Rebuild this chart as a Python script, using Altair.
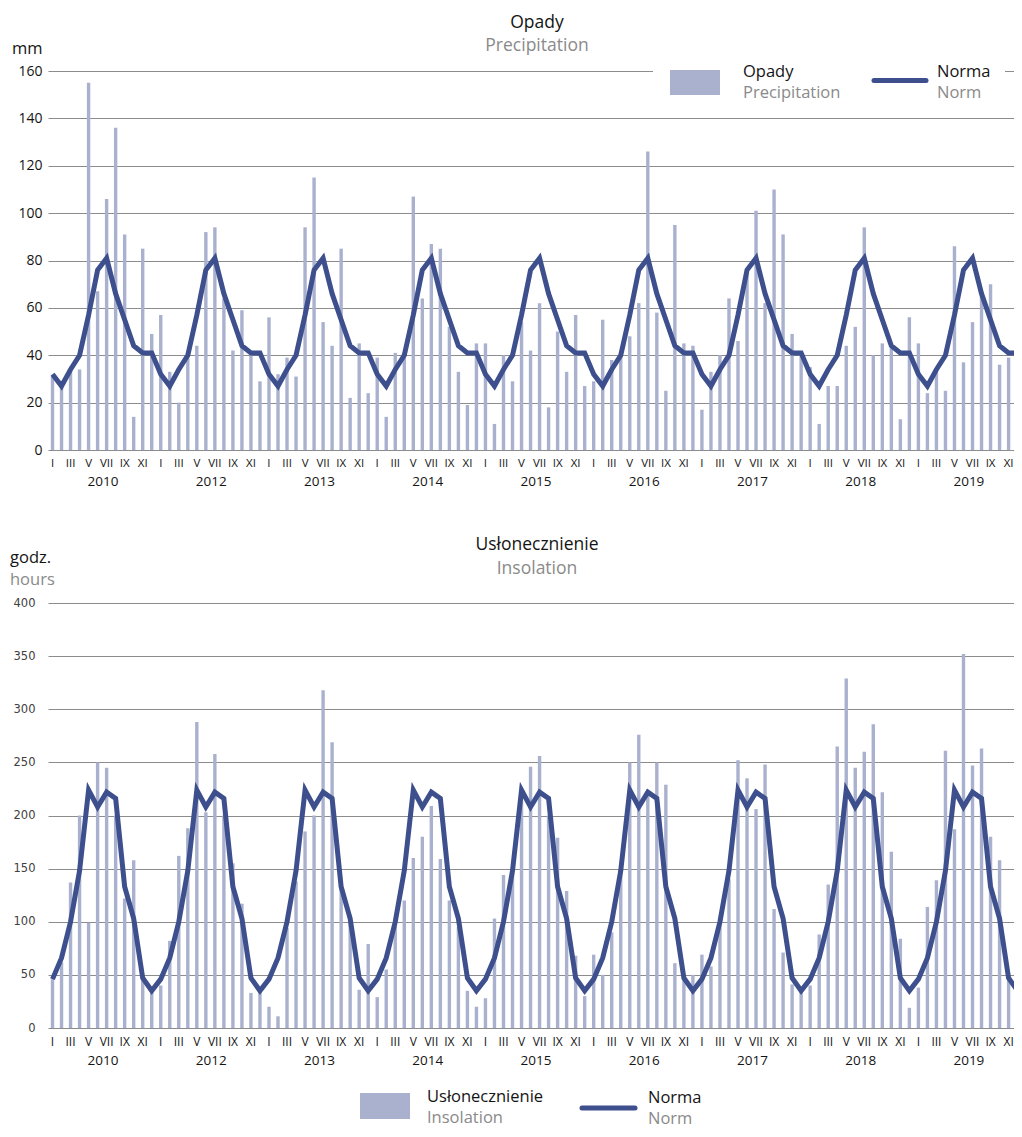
import altair as alt
import pandas as pd

# ---------------- data ----------------
year_labels = ["2010", "2012", "2013", "2014", "2015", "2016", "2017", "2018", "2019"]
roman = ["I", "II", "III", "IV", "V", "VI", "VII", "VIII", "IX", "X", "XI", "XII"]

precip_y1 = [31, 28, 33, 34, 155, 67, 106, 136, 91, 14, 85, 49]
precip_y2 = [57, 33, 20, 39, 44, 92, 94, 64, 42, 59, 40, 29]
precip_y3 = [56, 32, 39, 31, 94, 115, 54, 44, 85, 22, 45, 24]
precip_y4 = [39, 14, 41, 41, 107, 64, 87, 85, 52, 33, 19, 45]
precip_y5 = [45, 11, 40, 29, 54, 42, 62, 18, 50, 33, 57, 27]
precip_y6 = [29, 55, 38, 41, 48, 62, 126, 58, 25, 95, 45, 44]
precip_y7 = [17, 33, 40, 64, 46, 75, 101, 62, 110, 91, 49, 41]
precip_y8 = [35, 11, 27, 27, 44, 52, 94, 40, 45, 43, 13, 56]
precip_y9 = [45, 24, 33, 25, 86, 37, 54, 65, 70, 36, 39, 40]
precip_norm = [32, 27, 34, 40, 57, 76, 81, 66, 55, 44, 41, 41]

insol_y1 = [46, 62, 137, 200, 99, 250, 245, 200, 122, 158, 45, 35]
insol_y2 = [40, 82, 162, 188, 288, 203, 258, 200, 155, 117, 33, 35]
insol_y3 = [20, 11, 94, 138, 185, 200, 318, 269, 140, 100, 36, 79]
insol_y4 = [29, 55, 100, 120, 160, 180, 209, 159, 120, 95, 35, 20]
insol_y5 = [28, 103, 144, 150, 220, 246, 256, 200, 179, 129, 68, 30]
insol_y6 = [69, 50, 90, 150, 250, 276, 220, 250, 229, 61, 48, 50]
insol_y7 = [69, 58, 100, 140, 252, 235, 206, 248, 112, 71, 41, 35]
insol_y8 = [40, 88, 135, 265, 329, 245, 260, 286, 222, 166, 84, 19]
insol_y9 = [38, 114, 139, 261, 187, 352, 247, 263, 180, 158, 45, 30]
insol_norm = [46, 66, 100, 148, 224, 208, 222, 216, 133, 103, 47, 35]

precip_years = [precip_y1, precip_y2, precip_y3, precip_y4, precip_y5,
                precip_y6, precip_y7, precip_y8, precip_y9]
insol_years = [insol_y1, insol_y2, insol_y3, insol_y4, insol_y5,
               insol_y6, insol_y7, insol_y8, insol_y9]

rows = []
for k in range(len(year_labels)):
    for m in range(12):
        rows.append({
            "idx": k * 12 + m,
            "month": roman[m],
            "precip": precip_years[k][m],
            "precip_norm": precip_norm[m],
            "insol": insol_years[k][m],
            "insol_norm": insol_norm[m],
        })
df = pd.DataFrame(rows)
ldf = df[df["idx"] % 2 == 0][["idx", "month"]]
ydf = pd.DataFrame({"year": year_labels,
                    "pos": [k * 12 + 5.6 for k in range(len(year_labels))]})

# ---------------- style ----------------
FONT = "Open Sans"
BAR = "#A9B1CF"
LINE = "#3E4F8D"
GRID = "#8C8C8C"
GRAYTXT = "#8A8A8A"
BLACK = "#141414"
W = 966
H1 = 379
H2 = 425

xscale = alt.Scale(domain=[-0.5, 106.6], nice=False, zero=False, padding=0)


def txt(s, x, y, size, color, align="left"):
    return alt.Chart(alt.Data(values=[{"a": 1}])).mark_text(
        text=s, align=align, baseline="alphabetic", font=FONT,
        fontSize=size, color=color
    ).encode(x=alt.value(x), y=alt.value(y))


def box(x1, x2, y1, y2, color):
    return alt.Chart(alt.Data(values=[{"a": 1}])).mark_rect(color=color).encode(
        x=alt.value(x1), x2=alt.value(x2), y=alt.value(y1), y2=alt.value(y2))


def rule(x1, x2, y):
    return alt.Chart(alt.Data(values=[{"a": 1}])).mark_rule(
        color=LINE, strokeWidth=5, strokeCap="round"
    ).encode(x=alt.value(x1), x2=alt.value(x2), y=alt.value(y))


def month_labels(h, size):
    return alt.Chart(ldf).mark_text(font=FONT, fontSize=size, color=BLACK,
                                    baseline="alphabetic").encode(
        x=alt.X("idx:Q", scale=xscale, axis=None), y=alt.value(h), text="month:N")


def year_text(h):
    return alt.Chart(ydf).mark_text(font=FONT, fontSize=13.5, color=BLACK,
                                    baseline="alphabetic").encode(
        x=alt.X("pos:Q", scale=xscale, axis=None), y=alt.value(h), text="year:N")


# ---------------- top: precipitation ----------------
y1axis = alt.Axis(values=list(range(0, 161, 20)), grid=True, gridColor=GRID,
                  gridWidth=1, domain=False, ticks=False, title=None,
                  labelFont=FONT, labelFontSize=14, labelColor=BLACK,
                  labelPadding=6)
y1scale = alt.Scale(domain=[0, 160], nice=False, padding=0)

bars1 = alt.Chart(df).mark_bar(size=3.4, color=BAR, clip=True).encode(
    x=alt.X("idx:Q", scale=xscale, axis=None),
    y=alt.Y("precip:Q", scale=y1scale, axis=y1axis))
line1 = alt.Chart(df).mark_line(color=LINE, strokeWidth=5, clip=True).encode(
    x=alt.X("idx:Q", scale=xscale, axis=None),
    y=alt.Y("precip_norm:Q", scale=y1scale))

top = alt.layer(
    bars1, line1, month_labels(H1 + 17, 11.5), year_text(H1 + 36),
    txt("Opady", 489, -43, 17.5, BLACK, "center"),
    txt("Precipitation", 489, -20, 17.5, GRAYTXT, "center"),
    txt("mm", -36, -17, 16.5, BLACK),
    box(605, 957, -12, 32, "white"),
    box(622, 672, -1, 24, BAR),
    txt("Opady", 695, 6, 16.5, BLACK),
    txt("Precipitation", 695, 27, 16.5, GRAYTXT),
    rule(826, 878, 9.5),
    txt("Norma", 889, 6, 16.5, BLACK),
    txt("Norm", 889, 27, 16.5, GRAYTXT),
).properties(width=W, height=H1)

# ---------------- bottom: insolation ----------------
y2axis = alt.Axis(values=list(range(0, 401, 50)), grid=True, gridColor=GRID,
                  gridWidth=1, domain=False, ticks=False, title=None,
                  labelFont="DejaVu Sans", labelFontSize=11.5, labelColor="#404040",
                  labelPadding=13)
y2scale = alt.Scale(domain=[0, 400], nice=False, padding=0)

bars2 = alt.Chart(df).mark_bar(size=3.4, color=BAR, clip=True).encode(
    x=alt.X("idx:Q", scale=xscale, axis=None),
    y=alt.Y("insol:Q", scale=y2scale, axis=y2axis))
line2 = alt.Chart(df).mark_line(color=LINE, strokeWidth=5, clip=True).encode(
    x=alt.X("idx:Q", scale=xscale, axis=None),
    y=alt.Y("insol_norm:Q", scale=y2scale))

bottom = alt.layer(
    bars2, line2, month_labels(H2 + 18, 12), year_text(H2 + 37),
    txt("Usłonecznienie", 489, -53, 17.5, BLACK, "center"),
    txt("Insolation", 489, -29, 17.5, GRAYTXT, "center"),
    txt("godz.", -38, -40, 16.5, BLACK),
    txt("hours", -38, -18, 16.5, GRAYTXT),
    box(312, 362, 490, 516, BAR),
    txt("Usłonecznienie", 379, 499, 16.5, BLACK),
    txt("Insolation", 379, 520, 16.5, GRAYTXT),
    rule(534, 587, 505),
    txt("Norma", 600, 500, 16.5, BLACK),
    txt("Norm", 600, 521, 16.5, GRAYTXT),
).properties(width=W, height=H2)

chart = alt.vconcat(top, bottom, spacing=47).resolve_scale(
    x="independent", y="independent"
).configure_view(stroke=None).properties(
    padding={"left": 2, "top": 6, "right": 0, "bottom": 4}
)

chart.save("out.html", embed_options={"renderer": "svg", "actions": False})
